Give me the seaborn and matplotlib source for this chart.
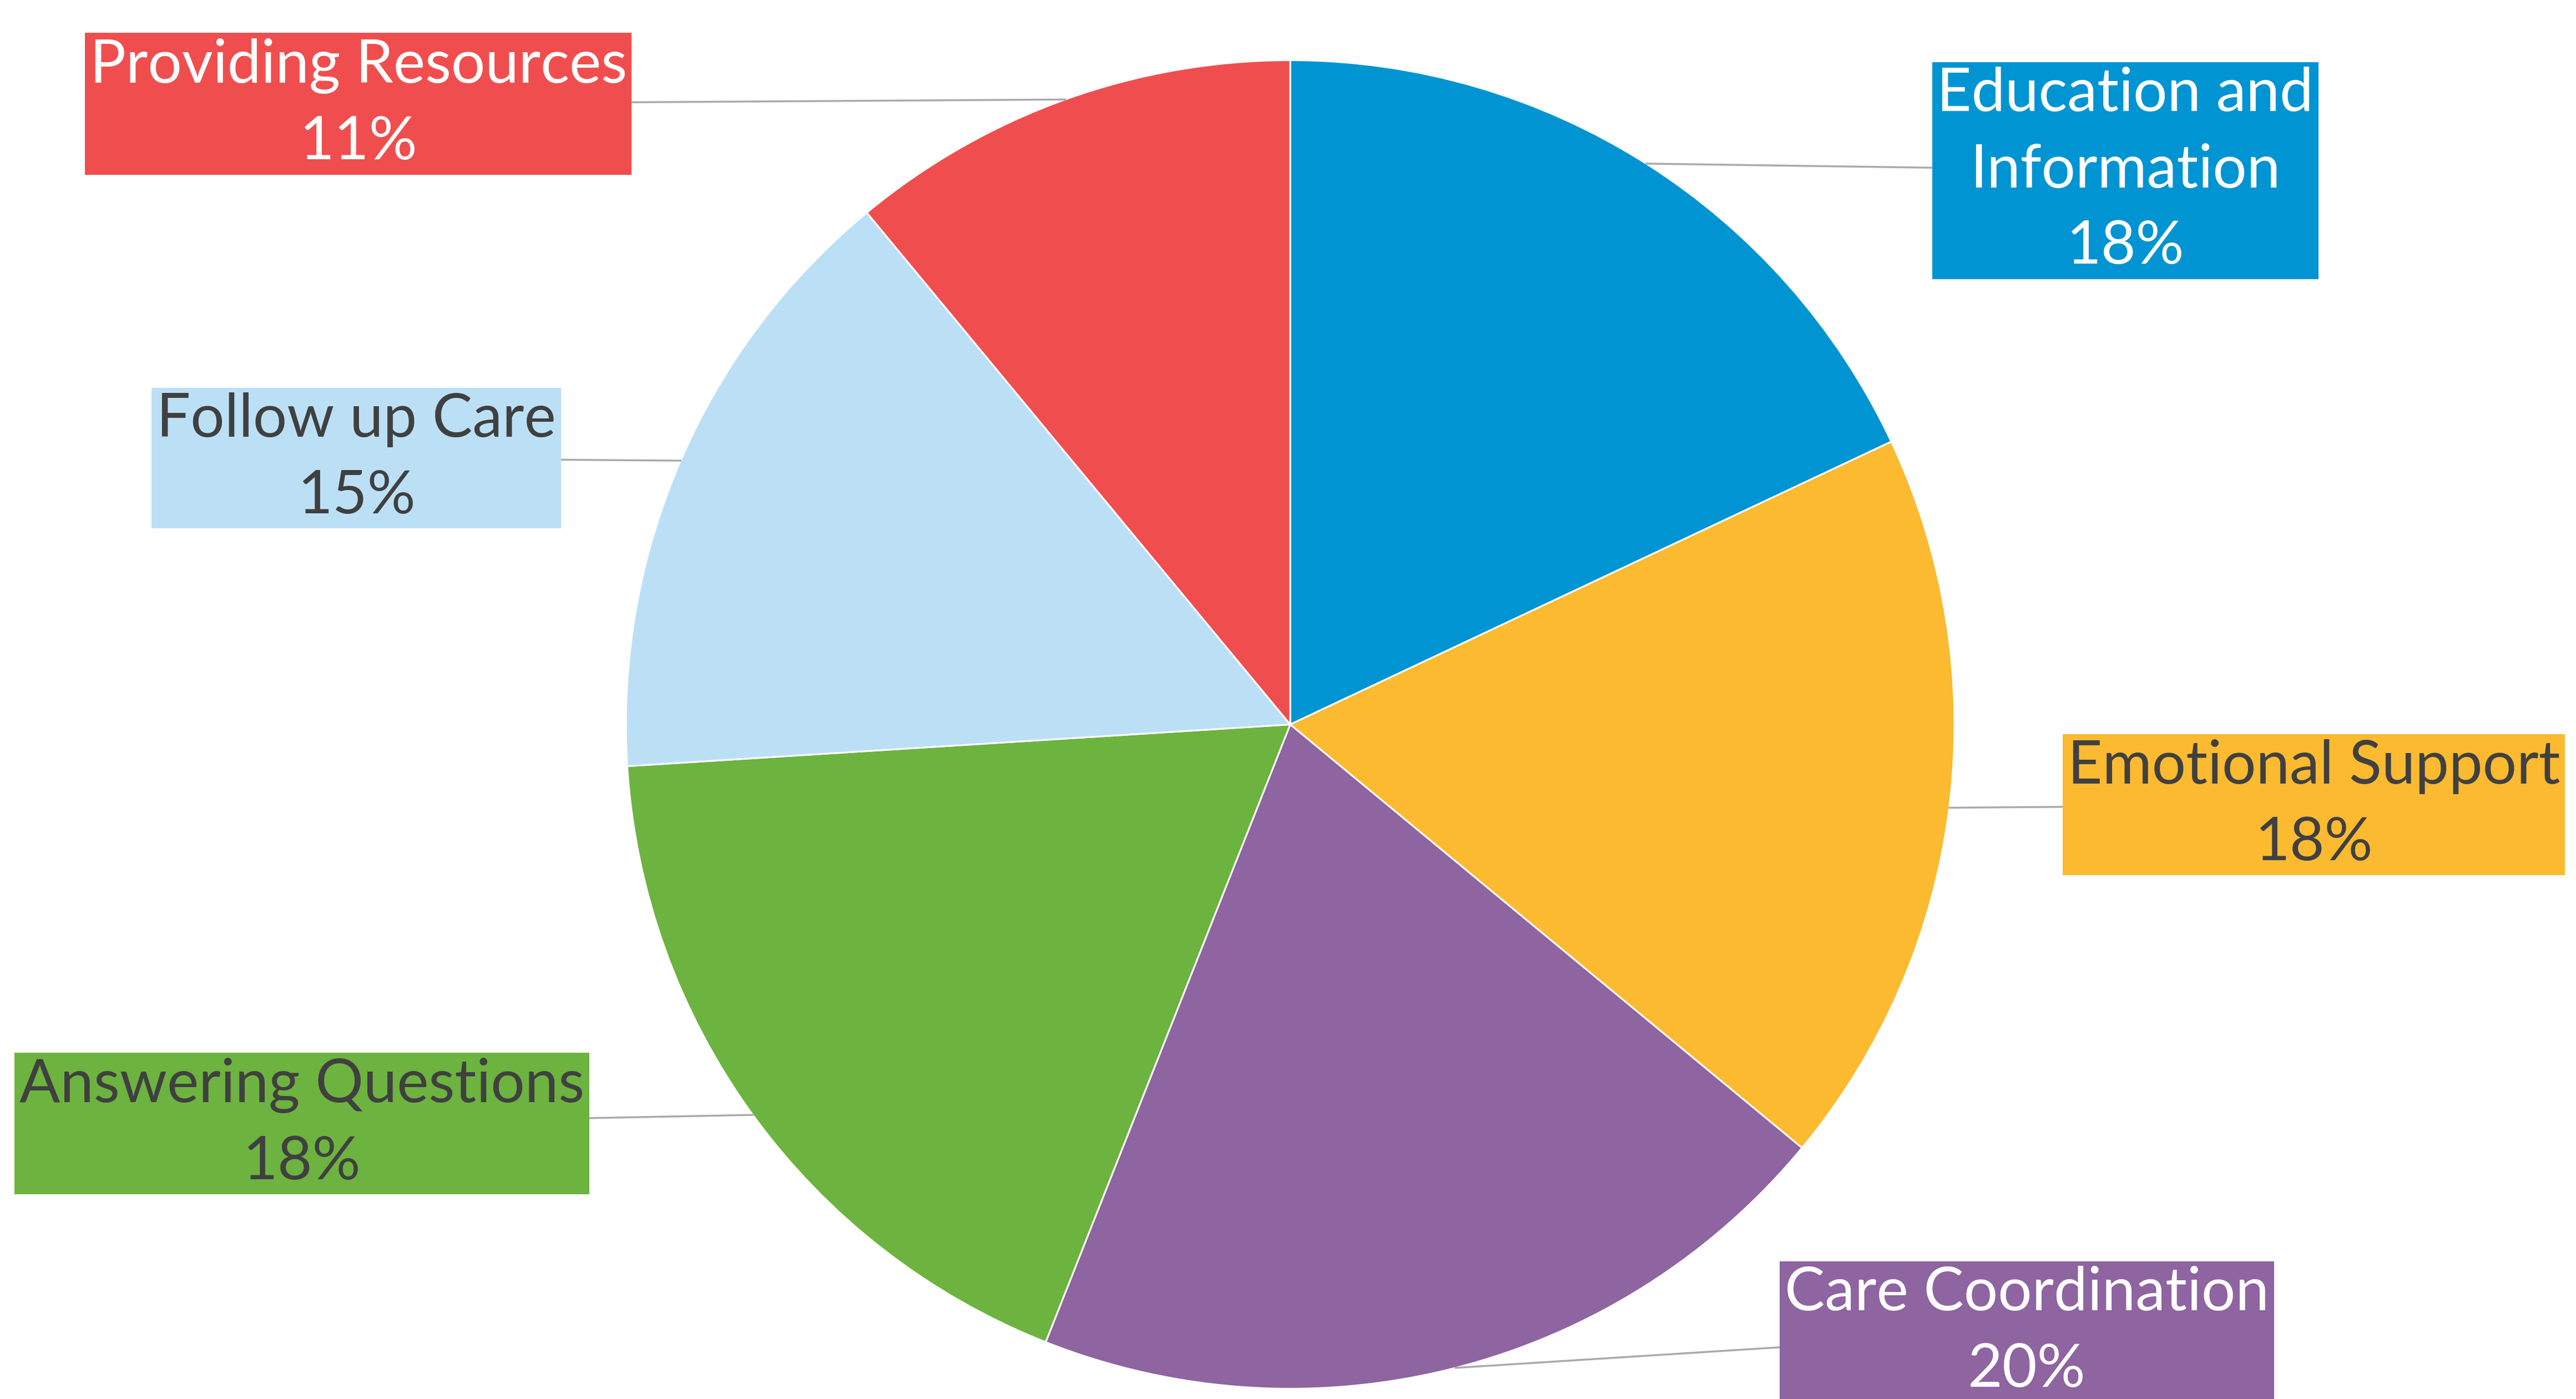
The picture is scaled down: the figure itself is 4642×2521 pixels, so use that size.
import numpy as np
import matplotlib
matplotlib.use("Agg")
import matplotlib.pyplot as plt
import seaborn as sns

categories = ["Education and\nInformation", "Emotional Support", "Care Coordination",
              "Answering Questions", "Follow up Care", "Providing Resources"]
shares = [18, 18, 20, 18, 15, 11]
pct_labels = ["18%", "18%", "20%", "18%", "15%", "11%"]
slice_colors = ["#0094D3", "#FBBA30", "#8E64A1", "#6DB33F", "#BBE0F6", "#F04E4E"]
text_colors = ["white", "#404040", "white", "#404040", "#404040", "white"]

# label box centres (data units, pie radius = 1)
label_pos = [(1.257, 0.834), (1.541, -0.121), (1.109, -0.914),
             (-1.488, -0.601), (-1.406, 0.401), (-1.403, 0.934)]

sns.set_theme(style="white")
plt.rcParams['font.family'] = ['Lato', 'DejaVu Sans']

W, H = 4642, 2521
fig = plt.figure(figsize=(W / 100, H / 100), dpi=100)
ax = fig.add_axes([0, 0, 1, 1])

wedges, _ = ax.pie(shares, colors=slice_colors, startangle=90, counterclock=False,
                   radius=1.0, center=(0, 0),
                   wedgeprops=dict(edgecolor="white", linewidth=2.2))

R_px = 1197.0
cx, cy = 2325.0, 1305.5
ax.set_aspect('auto')
ax.set_xlim(-cx / R_px, (W - cx) / R_px)
ax.set_ylim(-(H - cy) / R_px, cy / R_px)
ax.axis('off')

for w, cat, pct, fc, tc, (lx, ly) in zip(wedges, categories, pct_labels,
                                          slice_colors, text_colors, label_pos):
    mid = np.deg2rad((w.theta1 + w.theta2) / 2.0)
    px, py = np.cos(mid), np.sin(mid)
    ax.annotate(f"{cat}\n{pct}", xy=(px, py), xytext=(lx, ly),
                ha="center", va="center", fontsize=78, color=tc,
                fontweight="normal", linespacing=1.48,
                bbox=dict(boxstyle="square,pad=0.08", fc=fc, ec="none"),
                arrowprops=dict(arrowstyle="-", color="#AAAAAA", lw=2.5,
                                shrinkA=0, shrinkB=0),
                annotation_clip=False)

fig.savefig("out.png", dpi=100, facecolor="white")
